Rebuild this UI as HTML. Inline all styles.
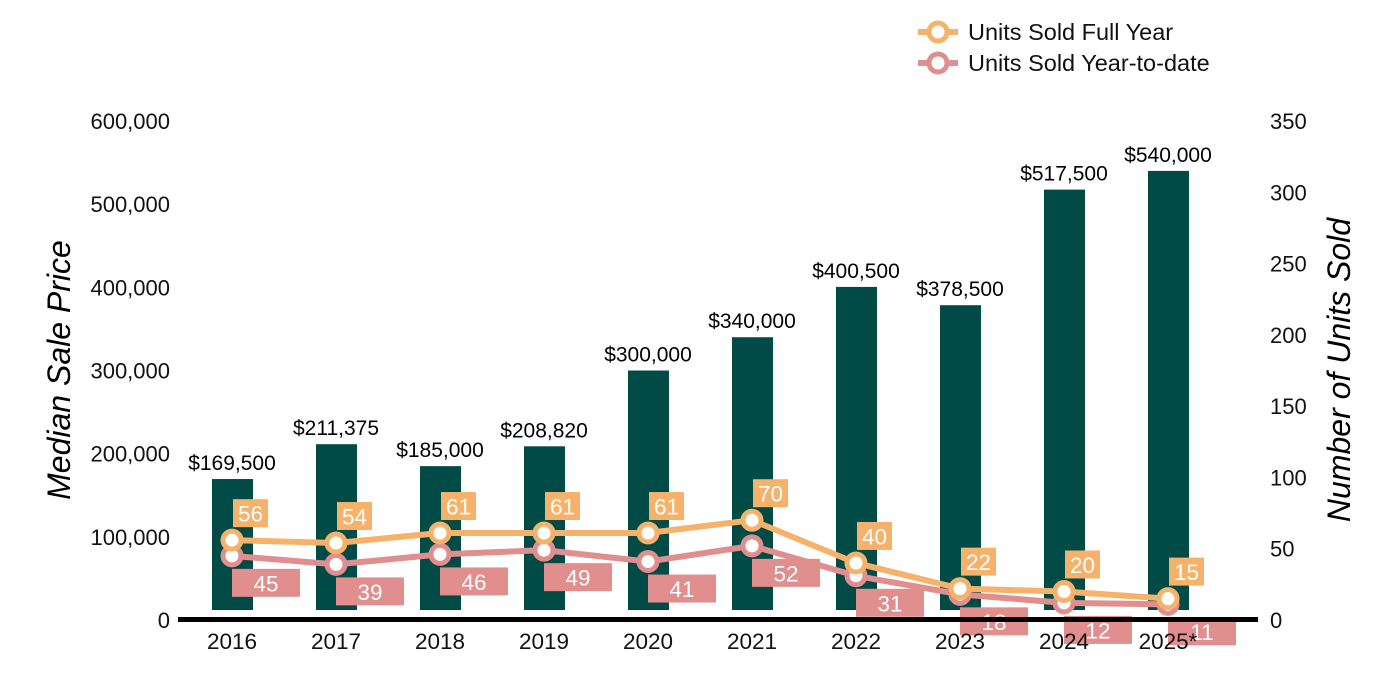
<!DOCTYPE html>
<html><head><meta charset="utf-8"><style>
body{margin:0;background:#fff}
svg{display:block;font-family:"Liberation Sans",Arial,sans-serif}
</style></head><body>
<svg id="chart" width="1400" height="700" viewBox="0 0 1400 700">
<g id="legend">
 <g>
  <line x1="918" y1="32" x2="958" y2="32" stroke="#F6B26B" stroke-width="6"/>
  <circle cx="938" cy="32" r="9" fill="#fff" stroke="#F6B26B" stroke-width="5"/>
  <text x="968" y="40" font-size="23.5" fill="#111">Units Sold Full Year</text>
 </g>
 <g>
  <line x1="918" y1="63" x2="958" y2="63" stroke="#E08E8E" stroke-width="6"/>
  <circle cx="938" cy="63" r="9" fill="#fff" stroke="#E08E8E" stroke-width="5"/>
  <text x="968" y="71" font-size="23.5" fill="#111">Units Sold Year-to-date</text>
 </g>
</g>
<text transform="translate(70,370) rotate(-90)" text-anchor="middle" font-size="32" font-style="italic" fill="#000">Median Sale Price</text>
<text transform="translate(1350,370) rotate(-90)" text-anchor="middle" font-size="32" font-style="italic" fill="#000">Number of Units Sold</text>
<g id="g-ticks"></g>
<g id="g-bars"></g>
<g id="g-lines"></g>
<g id="g-axis"></g>
</svg>
<script>
const categories=["2016","2017","2018","2019","2020","2021","2022","2023","2024","2025*"];
const prices=[169500,211375,185000,208820,300000,340000,400500,378500,517500,540000];
const priceLabels=["$169,500","$211,375","$185,000","$208,820","$300,000","$340,000","$400,500","$378,500","$517,500","$540,000"];
const fullYear=[56,54,61,61,61,70,40,22,20,15];
const ytd=[45,39,46,49,41,52,31,18,12,11];
const leftTicks=[0,100000,200000,300000,400000,500000,600000];
const rightTicks=[0,50,100,150,200,250,300,350];
const NS="http://www.w3.org/2000/svg";
const y0=620,yTop=121;
const yL=v=>y0-v/600000*(y0-yTop);
const yR=v=>y0-v/350*(y0-yTop);
const xC=i=>232+i*104;
function mk(tag,attrs,parent,text){const e=document.createElementNS(NS,tag);for(const k in attrs)e.setAttribute(k,attrs[k]);if(text!==undefined)e.textContent=text;parent.appendChild(e);return e;}
const gT=document.getElementById('g-ticks'),gB=document.getElementById('g-bars'),gL=document.getElementById('g-lines'),gA=document.getElementById('g-axis');
leftTicks.forEach(v=>{const t=mk('text',{x:170,y:yL(v)+8,'text-anchor':'end','font-size':22,fill:'#111'},gT,v.toLocaleString('en-US'));

});
rightTicks.forEach(v=>{const t=mk('text',{x:1270,y:yR(v)+8,'font-size':22,fill:'#111'},gT,String(v));

});
prices.forEach((p,i)=>{const b=mk('rect',{x:xC(i)-20,y:yL(p),width:41,height:610-yL(p),fill:'#004B45'},gB);


const t=mk('text',{x:xC(i),y:yL(p)-9,'text-anchor':'middle','font-size':21,fill:'#000'},gB,priceLabels[i]);

});
function series(vals,color,name){const pl=mk('polyline',{points:vals.map((v,i)=>xC(i)+','+yR(v)).join(' '),fill:'none',stroke:color,'stroke-width':6,'stroke-linejoin':'round'},gL);


vals.forEach((v,i)=>{const c=mk('circle',{cx:xC(i),cy:yR(v),r:9,fill:'#fff',stroke:color,'stroke-width':5},gL);

});}
series(ytd,'#E08E8E','ytd');
series(fullYear,'#F6B26B','full-year');
ytd.forEach((v,i)=>{const cx=xC(i),cy=yR(v);const r=mk('rect',{x:cx,y:cy+13,width:68,height:28,fill:'#E08E8E'},gL);


const t=mk('text',{x:cx+34,y:cy+35.5,'text-anchor':'middle','font-size':22.5,fill:'#fff'},gL,String(v));

});
fullYear.forEach((v,i)=>{const cx=xC(i),cy=yR(v);const r=mk('rect',{x:cx+1,y:cy-41,width:35,height:28,fill:'#F6B26B'},gL);


const t=mk('text',{x:cx+18.5,y:cy-18.5,'text-anchor':'middle','font-size':22.5,fill:'#fff'},gL,String(v));

});
const ax=mk('line',{x1:178,y1:619.5,x2:1258,y2:619.5,stroke:'#000','stroke-width':5},gA);


categories.forEach((c,i)=>{const t=mk('text',{x:xC(i),y:649,'text-anchor':'middle','font-size':22.5,fill:'#111'},gA,c);

});
</script>
</body></html>
